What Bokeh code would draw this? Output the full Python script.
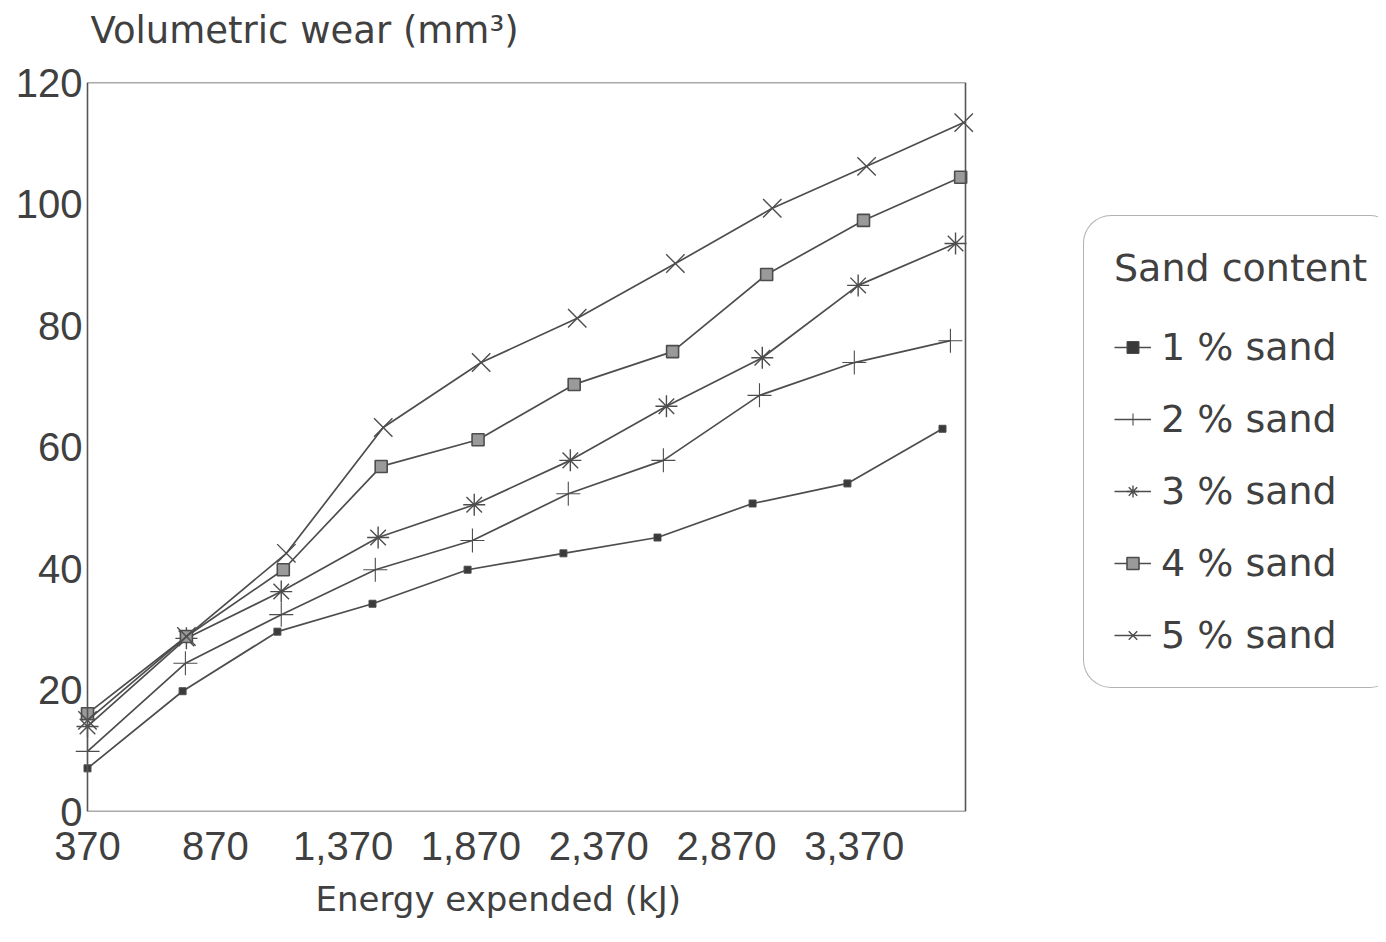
from bokeh.plotting import figure
from bokeh.models import (Range1d, FixedTicker, NumeralTickFormatter, Legend, LegendItem,
                          BoxAnnotation, Title)
from bokeh.embed import file_html
from bokeh.resources import INLINE

# ---- data ----
energy_1 = [370, 742, 1113, 1485, 1857, 2232, 2600, 2972, 3343, 3715]
wear_1 = [7.1, 19.8, 29.6, 34.2, 39.8, 42.5, 45.1, 50.7, 54.0, 63.0]
energy_2 = [370, 753, 1128, 1496, 1876, 2251, 2623, 2999, 3370, 3746]
wear_2 = [9.9, 24.4, 32.4, 39.8, 44.6, 52.3, 57.8, 68.5, 73.9, 77.5]
energy_3 = [370, 757, 1128, 1507, 1883, 2259, 2635, 3010, 3385, 3766]
wear_3 = [14.0, 28.5, 36.2, 45.1, 50.5, 57.8, 66.7, 74.7, 86.6, 93.5]
energy_4 = [370, 757, 1136, 1519, 1898, 2274, 2659, 3027, 3406, 3786]
wear_4 = [16.1, 28.8, 39.8, 56.8, 61.2, 70.3, 75.7, 88.4, 97.3, 104.4]
energy_5 = [370, 757, 1148, 1527, 1910, 2286, 2670, 3049, 3418, 3798]
wear_5 = [15.0, 28.8, 42.5, 63.2, 73.9, 81.2, 90.2, 99.3, 106.2, 113.4]

series_labels = ["1 % sand", "2 % sand", "3 % sand", "4 % sand", "5 % sand"]
x_ticks = [370, 870, 1370, 1870, 2370, 2870, 3370]
y_ticks = [0, 20, 40, 60, 80, 100, 120]
x_min, x_max = 370, 3805      # extent of the plotted box
y_min, y_max = 0, 120

TEXT = "#404040"
LINE = "#4d4d4d"
TICK_FONT = "Liberation Sans"
LABEL_FONT = "DejaVu Sans"

# layout (pixels): the drawing box spans 87..965 horizontally; the frame is widened
# so the legend (placed to the right of the box) is not clipped.
W, H = 1378, 934
BOX_L, BOX_R = 87, 965
PAD_L = 12
FRAME_L = BOX_L - PAD_L
kj_per_px = (x_max - x_min) / (BOX_R - BOX_L)
x_start = x_min - PAD_L * kj_per_px
x_end = x_min + (W - BOX_L) * kj_per_px

p = figure(width=W, height=H, output_backend="svg", toolbar_location=None,
           x_range=Range1d(x_start, x_end), y_range=Range1d(y_min, y_max),
           min_border_left=FRAME_L, min_border_right=0, min_border_top=82, min_border_bottom=123)
p.title_location = None

p.background_fill_color = "white"
p.border_fill_color = "white"
p.outline_line_color = None
p.xgrid.visible = False
p.ygrid.visible = False

# spacer between the frame and the title (closest to the frame)
spacer = Title(text=" ", text_font_size="1px", standoff=28, text_color="white")
p.add_layout(spacer, "above")
main_title = Title(text="Volumetric wear (mm³)", align="left", offset=3 + PAD_L, standoff=0,
                   text_font=LABEL_FONT, text_font_size="37px", text_font_style="normal",
                   text_color=TEXT)
p.add_layout(main_title, "above")

for ax in (p.xaxis[0], p.yaxis[0]):
    ax.axis_line_color = None
    ax.major_tick_line_color = None
    ax.minor_tick_line_color = None
    ax.major_tick_out = 0
    ax.major_tick_in = 0
    ax.major_label_text_font = TICK_FONT
    ax.major_label_text_font_size = "40px"
    ax.major_label_text_color = TEXT

p.xaxis.ticker = FixedTicker(ticks=x_ticks)
p.xaxis.formatter = NumeralTickFormatter(format="0,0")
p.xaxis.major_label_standoff = 20

p.yaxis.ticker = FixedTicker(ticks=y_ticks)
p.yaxis.major_label_standoff = 5 - PAD_L

xlab = Title(text="Energy expended (kJ)", align="left", offset=228 + PAD_L, standoff=29,
             text_font=LABEL_FONT, text_font_size="34px", text_font_style="normal",
             text_color=TEXT)
p.add_layout(xlab, "below")

box = BoxAnnotation(left=x_min, right=x_max, bottom=y_min, top=y_max,
                    fill_color=None, fill_alpha=0, line_color="#555555", line_alpha=1.0,
                    line_width=1.6)
p.add_layout(box)

items = []

def add_series(xs, ys, label, marker, size, fill, lw):
    lr = p.line(xs, ys, line_color=LINE, line_width=1.7)
    sr = p.scatter(xs, ys, marker=marker, size=size, line_color=LINE,
                   fill_color=fill, line_width=lw)
    items.append(LegendItem(label=label, renderers=[lr, sr]))

add_series(energy_1, wear_1, series_labels[0], "square", 7, "#3a3a3a", 1.0)
add_series(energy_2, wear_2, series_labels[1], "cross", 24, None, 1.1)
add_series(energy_3, wear_3, series_labels[2], "asterisk", 22, None, 1.4)
add_series(energy_4, wear_4, series_labels[3], "square", 12, "#9a9a9a", 1.6)
add_series(energy_5, wear_5, series_labels[4], "x", 26, None, 1.4)

legend = Legend(items=items, location=(1083 - FRAME_L, 123))
legend.title = "Sand content"
legend.title_text_font = LABEL_FONT
legend.title_text_font_size = "38px"
legend.title_text_font_style = "normal"
legend.title_text_color = TEXT
legend.title_standoff = 35
legend.label_text_font = LABEL_FONT
legend.label_text_font_size = "38px"
legend.label_text_color = TEXT
legend.label_height = 44
legend.glyph_height = 30
legend.glyph_width = 37
legend.label_standoff = 10
legend.spacing = 28
legend.padding = 30
legend.margin = 0
legend.border_line_color = "#666666"
legend.border_line_width = 1.5
legend.background_fill_color = "white"
legend.background_fill_alpha = 1.0
if "border_radius" in Legend.properties():
    legend.border_radius = 28
p.add_layout(legend)

open("out.html", "w").write(file_html(p, INLINE))
